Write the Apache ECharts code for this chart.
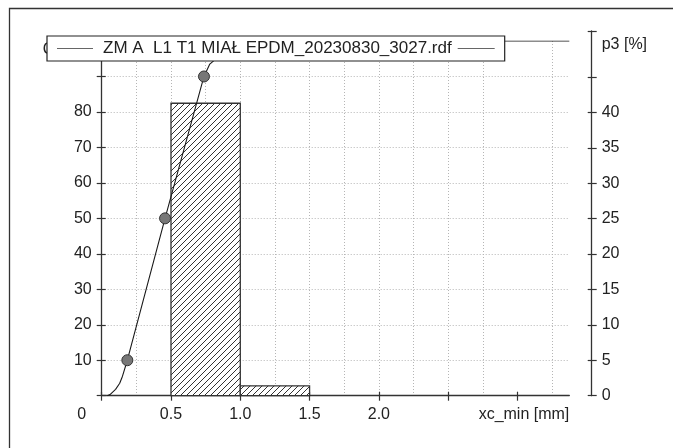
<!DOCTYPE html>
<html>
<head>
<meta charset="utf-8">
<script src="https://cdn.jsdelivr.net/npm/echarts@6/dist/echarts.min.js"></script>
<style>
html,body{margin:0;padding:0;background:#fff;}
#chart{width:673px;height:448px;}
</style>
</head>
<body>
<div id="chart"></div>
<script>
// ---- data ----
const seriesName = 'ZM A  L1 T1 MIAŁ EPDM_20230830_3027.rdf';
const xName = 'xc_min [mm]';
const q3Name = 'Q3 [%]';
const p3Name = 'p3 [%]';
const xTickValues = [0, 0.5, 1.0, 1.5, 2.0, 2.5, 3.0];
const xLabelValues = [0, 0.5, 1.0, 1.5, 2.0];
const q3TickValues = [0, 10, 20, 30, 40, 50, 60, 70, 80, 90, 100];
const q3LabelValues = [10, 20, 30, 40, 50, 60, 70, 80];
const p3TickValues = [0, 5, 10, 15, 20, 25, 30, 35, 40, 45, 51.5];
const p3LabelValues = [0, 5, 10, 15, 20, 25, 30, 35, 40];
const binStart = [0.5, 1.0];
const binEnd = [1.0, 1.5];
const binP3 = [41.3, 1.4];
const curveX = [0.04, 0.06, 0.1, 0.13, 0.15, 0.185, 0.457, 0.738, 0.78, 0.9, 1.0, 1.5, 3.374];
const curveQ3 = [0, 0.3, 1.8, 3.5, 5.5, 10, 50, 90, 93.5, 97.5, 98.6, 100, 100];
const markX = [0.185, 0.457, 0.738];
const markQ3 = [10, 50, 90];
const xMax = 3.374, q3Max = 100, p3Max = 51.5;

// ---- hatch pattern ----
function hatch() {
  const s = 6;
  const c = document.createElement('canvas');
  c.width = s; c.height = s;
  const g = c.getContext('2d');
  g.fillStyle = '#fff'; g.fillRect(0, 0, s, s);
  g.strokeStyle = '#333'; g.lineWidth = 1;
  g.beginPath();
  g.moveTo(-1, s + 1); g.lineTo(s + 1, -1);
  g.moveTo(-1, 1); g.lineTo(1, -1);
  g.moveTo(s - 1, s + 1); g.lineTo(s + 1, s - 1);
  g.stroke();
  return c;
}
const pattern = { image: hatch(), repeat: 'repeat' };

const FONT = "'Liberation Sans', Arial, sans-serif";
const TXT = '#222';
const AX = '#333';
const gridLine = { show: true, lineStyle: { color: '#b5b5b5', type: [1, 2], width: 1 } };
const G = { left: 101.7, right: 103.7, bottom: 52.3, outerBoundsMode: 'none' };

const chart = echarts.init(document.getElementById('chart'), null, { renderer: 'canvas' });
chart.setOption({
  animation: false,
  backgroundColor: '#fff',
  textStyle: { fontFamily: FONT },
  graphic: [{
    type: 'rect', z: -10,
    shape: { x: 9.5, y: 8.5, width: 700, height: 500 },
    style: { fill: 'none', stroke: '#333', lineWidth: 1.3 }
  }],
  grid: [Object.assign({ top: 41 }, G), Object.assign({ top: 31 }, G)],
  legend: {
    data: [{ name: seriesName, icon: 'rect', itemStyle: { color: '#666' } }],
    left: 47, top: 36, z: 20,
    padding: [4, 10, 4, 10],
    borderColor: '#222', borderWidth: 1.2, backgroundColor: '#fff',
    itemWidth: 36, itemHeight: 1,
    selectedMode: false,
    formatter: function (n) { return '{t|' + n + '}{g| }{l| }'; },
    textStyle: {
      fontSize: 17, color: TXT, fontFamily: FONT,
      rich: {
        t: { fontSize: 17, color: TXT, fontFamily: FONT, padding: [0, 0, 0, 5], lineHeight: 20 },
        g: { width: 6, fontSize: 17 },
        l: { width: 37, height: 1, lineHeight: 1, backgroundColor: '#666' }
      }
    }
  },
  xAxis: [{
    gridIndex: 0, type: 'value', position: 'bottom', min: 0, max: xMax, interval: 0.5,
    name: xName, nameLocation: 'end', nameGap: 0, nameMoveOverlap: false,
    nameTextStyle: { fontSize: 16, color: TXT, fontFamily: FONT, align: 'right', verticalAlign: 'top', padding: [11, 0, 0, 0] },
    axisLine: { show: true, onZero: false, lineStyle: { color: AX, width: 1.3 } },
    axisTick: { show: true, inside: false, length: 5, customValues: xTickValues, lineStyle: { color: AX, width: 1.2 } },
    axisLabel: {
      customValues: xLabelValues, margin: 11, fontSize: 16, color: TXT, fontFamily: FONT,
      formatter: function (v) { return v === 0 ? '{z|0}' : v.toFixed(1); },
      rich: { z: { fontSize: 16, color: TXT, fontFamily: FONT, padding: [0, 40, 0, 0] } }
    },
    splitLine: Object.assign({ showMinLine: false, showMaxLine: false }, gridLine),
    minorTick: { show: false, splitNumber: 2 },
    minorSplitLine: gridLine
  }, {
    gridIndex: 0, type: 'value', position: 'bottom', min: 0, max: xMax, interval: 0.5,
    axisLine: { show: false, onZero: false },
    axisTick: { show: true, inside: true, length: 4, customValues: xTickValues, lineStyle: { color: AX, width: 1.2 } },
    axisLabel: { show: false },
    splitLine: { show: false }
  }, {
    gridIndex: 1, type: 'value', position: 'bottom', min: 0, max: xMax, interval: 0.5,
    show: false, axisLine: { onZero: false }
  }],
  yAxis: [{
    gridIndex: 0, type: 'value', position: 'left', min: 0, max: q3Max, interval: 10,
    name: q3Name, nameLocation: 'end', nameGap: -9, nameMoveOverlap: false,
    nameTextStyle: { fontSize: 16, color: TXT, fontFamily: FONT, align: 'right', verticalAlign: 'middle', padding: [0, 10, 0, 0] },
    axisLine: { show: true, onZero: false, lineStyle: { color: AX, width: 1.3 } },
    axisTick: { show: true, inside: false, length: 5, customValues: q3TickValues, lineStyle: { color: AX, width: 1.2 } },
    axisLabel: { customValues: q3LabelValues, margin: 10, fontSize: 16, color: TXT, fontFamily: FONT },
    splitLine: Object.assign({ showMinLine: false, showMaxLine: false }, gridLine)
  }, {
    gridIndex: 1, type: 'value', position: 'right', offset: 22.4, min: 0, max: p3Max, interval: 5,
    name: p3Name, nameLocation: 'end', nameGap: -14, nameMoveOverlap: false,
    nameTextStyle: { fontSize: 16, color: TXT, fontFamily: FONT, align: 'left', verticalAlign: 'middle', padding: [0, 0, 0, 10] },
    axisLine: { show: true, onZero: false, lineStyle: { color: AX, width: 1.3 } },
    axisTick: { show: true, inside: false, length: 5, customValues: p3TickValues, lineStyle: { color: AX, width: 1.2 } },
    axisLabel: { customValues: p3LabelValues, margin: 10, fontSize: 16, color: TXT, fontFamily: FONT },
    splitLine: { show: false }
  }, {
    gridIndex: 0, type: 'value', position: 'left', min: 0, max: q3Max, interval: 10,
    axisLine: { show: false, onZero: false },
    axisTick: { show: true, inside: true, length: 4, customValues: q3TickValues, lineStyle: { color: AX, width: 1.2 } },
    axisLabel: { show: false },
    splitLine: { show: false }
  }, {
    gridIndex: 1, type: 'value', position: 'right', offset: 22.4, min: 0, max: p3Max, interval: 5,
    axisLine: { show: false, onZero: false },
    axisTick: { show: true, inside: true, length: 4, customValues: p3TickValues, lineStyle: { color: AX, width: 1.2 } },
    axisLabel: { show: false },
    splitLine: { show: false }
  }],
  series: [{
    type: 'custom',
    name: 'p3',
    xAxisIndex: 2, yAxisIndex: 1,
    z: 3,
    data: binStart.map(function (s, i) { return [s, binEnd[i], binP3[i]]; }),
    renderItem: function (params, api) {
      const p0 = api.coord([api.value(0), 0]);
      const p1 = api.coord([api.value(1), api.value(2)]);
      return {
        type: 'rect',
        shape: { x: p0[0], y: p1[1], width: p1[0] - p0[0], height: p0[1] - p1[1] },
        style: { fill: pattern, stroke: '#333', lineWidth: 1.3 }
      };
    }
  }, {
    type: 'line',
    name: seriesName,
    xAxisIndex: 0, yAxisIndex: 0,
    z: 4,
    data: curveX.map(function (x, i) { return [x, curveQ3[i]]; }),
    symbol: 'none',
    smooth: false,
    lineStyle: { color: '#1a1a1a', width: 1.1 },
    itemStyle: { color: '#666' }
  }, {
    type: 'scatter',
    name: 'marks',
    xAxisIndex: 0, yAxisIndex: 0,
    z: 5,
    data: markX.map(function (x, i) { return [x, markQ3[i]]; }),
    symbol: 'circle',
    symbolSize: 11,
    itemStyle: { color: '#777', borderColor: '#333', borderWidth: 1, opacity: 1 }
  }]
});
</script>
</body>
</html>
